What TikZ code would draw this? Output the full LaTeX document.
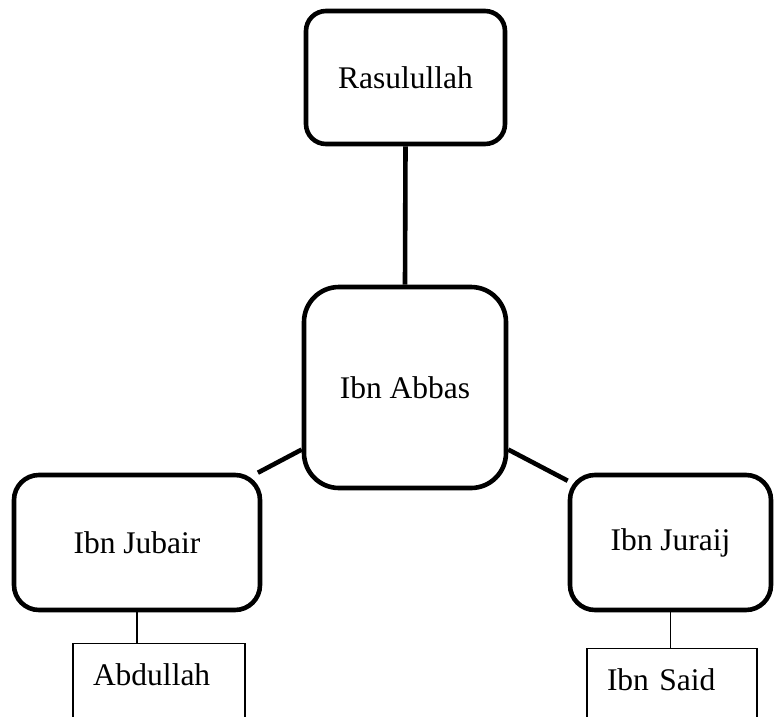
\documentclass[tikz,border=0pt]{standalone}
\usepackage{fontspec}
\setmainfont{Liberation Serif}
\usetikzlibrary{positioning}

\begin{document}
\begin{tikzpicture}[x=1pt, y=-1pt,
        font=\fontsize{31.5}{36}\selectfont,
        bigbox/.style={draw, line width=4.6pt, rounded corners=#1},
        smallbox/.style={draw, line width=1.3pt, anchor=north, align=left,
            inner xsep=20pt, inner ysep=20pt, text height=22pt, text depth=80pt},
        thick link/.style={line width=4.6pt},
        thin link/.style={line width=1.3pt}]
        \useasboundingbox (0,0) rectangle (774,716);
        \clip (0,0) rectangle (774,716);

        \node[bigbox=20pt, minimum width=199pt, minimum height=133pt] (rasul) at (405.5,77.5) {Rasulullah};
        \node[bigbox=35pt, minimum width=202pt, minimum height=201pt] (abbas) at (405,387.5) {Ibn Abbas};
        \node[bigbox=25pt, minimum width=246pt, minimum height=135pt] (jubair) at (137,542.5) {Ibn Jubair};
        \node[bigbox=25pt, minimum width=201pt, minimum height=135pt] (juraij) at (670.5,542.5) {Ibn Juraij};

        \node[smallbox, text width=132pt] (abdullah) at (159,643) {Abdullah};
        \node[smallbox, text width=130pt] (said) at (672,648) {Ibn Said};

        \draw[thick link] (rasul.south) -- (abbas.north);
        \draw[thick link] (abbas.211) -- (jubair.30);
        \draw[thick link] (abbas.-31) -- (juraij.149);

        \draw[thin link] (jubair.south) -- (jubair.south |- abdullah.north);
        \draw[thin link] (juraij.south) -- (juraij.south |- said.north);
    \end{tikzpicture}
\end{document}
